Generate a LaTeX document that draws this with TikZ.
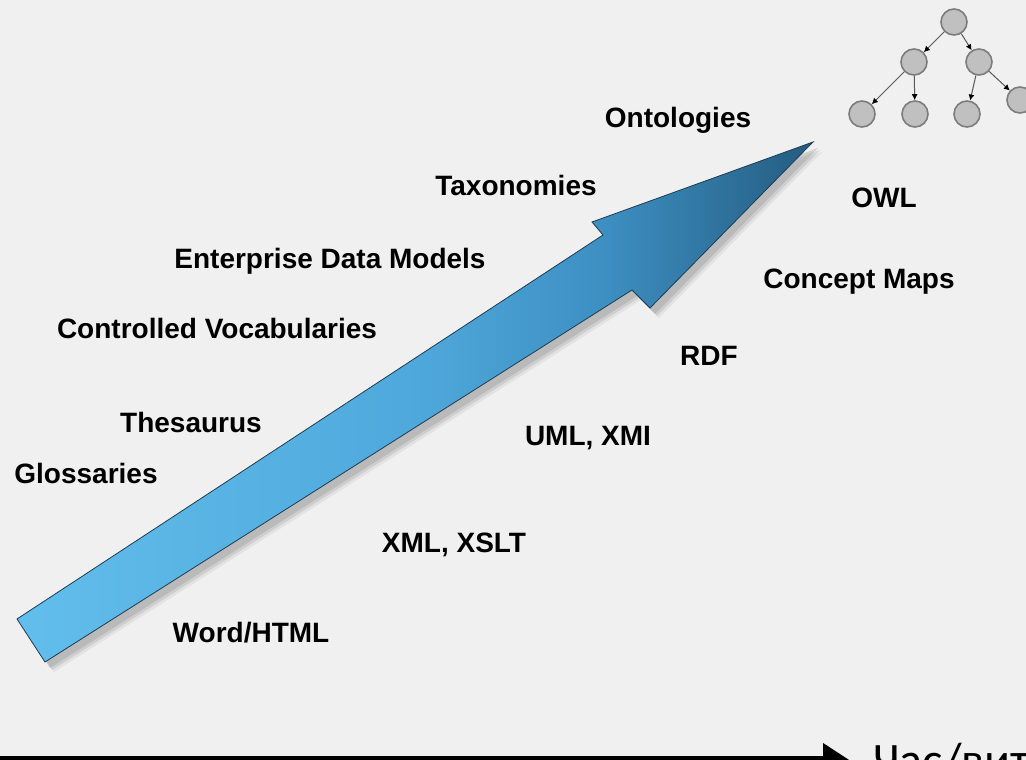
\documentclass[tikz,border=0pt]{standalone}
\usepackage{fontspec}
\setmainfont{Liberation Sans}
\newfontfamily\carlito{Carlito}
\usetikzlibrary{arrows.meta,shadings}
\definecolor{bgc}{RGB}{240,240,240}
\definecolor{arredge}{RGB}{30,60,80}
\definecolor{shadowc}{RGB}{150,150,150}
\definecolor{treefill}{RGB}{192,192,192}
\definecolor{treeedge}{RGB}{125,125,125}
\pgfdeclarehorizontalshading{arrshade}{100bp}{%
  rgb(0bp)=(0.384,0.745,0.925);
  rgb(25bp)=(0.384,0.745,0.925);
  rgb(50bp)=(0.31,0.66,0.86);
  rgb(62bp)=(0.24,0.56,0.76);
  rgb(75bp)=(0.14,0.36,0.50);
  rgb(100bp)=(0.14,0.36,0.50)}
\tikzset{
  lbl/.style={font=\fontsize{28}{32}\selectfont\bfseries, anchor=base, inner sep=0pt},
  tnode/.style={circle, minimum size=26pt, inner sep=0pt, fill=treefill, draw=treeedge, line width=1.6pt},
  tedge/.style={draw=treeedge!70!black, line width=1pt, -{Latex[length=6pt,width=6pt,black]}},
}
\begin{document}
\begin{tikzpicture}[x=1pt,y=-1pt]
\useasboundingbox (0,0) rectangle (1026,760);
\clip (0,0) rectangle (1026,760);
\fill[bgc] (0,0) rectangle (1026,760);

% shadow of the big arrow
\foreach \o/\op in {9/0.15,7/0.25,5/0.35}{
  \fill[shadowc, opacity=\op, shift={(\o,\o+1)}]
    (17,619) -- (603,235) -- (592,222) -- (813,142) -- (650,308) -- (632,290) -- (45,662) -- cycle;
}
% big arrow
\path[shading=arrshade, draw=arredge, line width=0.8pt]
  (17,619) -- (603,235) -- (592,222) -- (813,142) -- (650,308) -- (632,290) -- (45,662) -- cycle;

% labels
\node[lbl] (ont) at (678,128) {Ontologies};
\node[lbl] (tax) at (516,195) {Taxonomies};
\node[lbl] (edm) at (330,268) {Enterprise Data Models};
\node[lbl] (cv)  at (217,338) {Controlled Vocabularies};
\node[lbl] (the) at (191,432) {Thesaurus};
\node[lbl] (glo) at (86,483)  {Glossaries};
\node[lbl] (wh)  at (251,642) {Word/HTML};
\node[lbl] (xml) at (454,552) {XML, XSLT};
\node[lbl] (uml) at (588,445) {UML, XMI};
\node[lbl] (rdf) at (709,365) {RDF};
\node[lbl] (cm)  at (859,288) {Concept Maps};
\node[lbl] (owl) at (884,207) {OWL};

% tree
\node[tnode] (r)  at (954,22)  {};
\node[tnode] (l)  at (914,62)  {};
\node[tnode] (rr) at (979,62)  {};
\node[tnode] (ll) at (862,114) {};
\node[tnode] (lr) at (915,114) {};
\node[tnode] (rl) at (967,114) {};
\node[tnode] (rx) at (1020,100) {};
\draw[tedge] (r) -- (l);
\draw[tedge] (r) -- (rr);
\draw[tedge] (l) -- (ll);
\draw[tedge] (l) -- (lr);
\draw[tedge] (rr) -- (rl);
\draw[tedge] (rr) -- (rx);

% time axis
\coordinate (ta) at (-5,761);
\coordinate (tb) at (851,761);
\draw[line width=10pt, -{Triangle[length=28pt,width=34pt]}] (ta) -- (tb);
\node[font=\carlito\fontsize{48}{54}\selectfont, anchor=base west, inner sep=0pt] (time) at (873,776) {Час/вит};
\end{tikzpicture}
\end{document}
